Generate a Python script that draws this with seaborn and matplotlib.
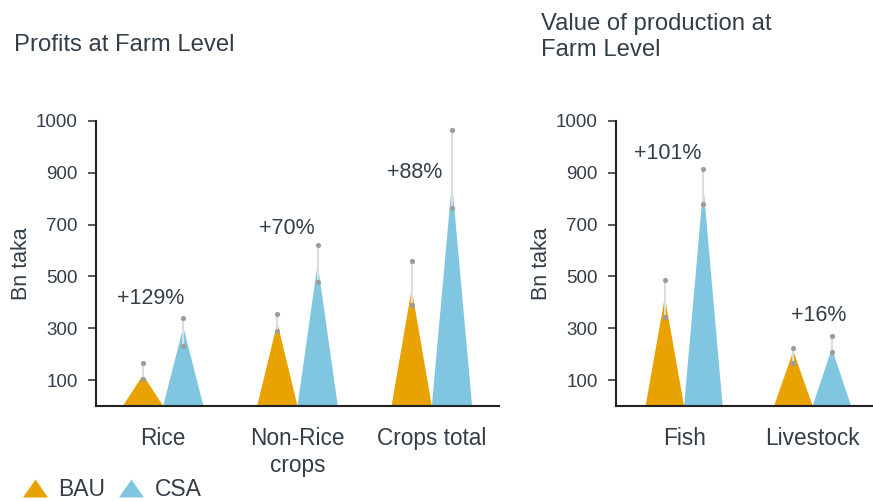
import numpy as np
import pandas as pd
import matplotlib
matplotlib.use("Agg")
import matplotlib.pyplot as plt
from matplotlib.patches import Polygon
from matplotlib.lines import Line2D
import seaborn as sns

# ---- data (Bn taka) ----
scenarios = ["BAU", "CSA"]

profit_cats = ["Rice", "Non-Rice\ncrops", "Crops total"]
profit_bau = [120, 322, 452]
profit_csa = [305, 550, 865]
profit_bau_lo = [105, 290, 391]
profit_bau_hi = [166, 355, 558]
profit_csa_lo = [231, 478, 763]
profit_csa_hi = [341, 623, 1065]
profit_change = ["+129%", "+70%", "+88%"]

value_cats = ["Fish", "Livestock"]
value_bau = [420, 213]
value_csa = [850, 222]
value_bau_lo = [343, 166]
value_bau_hi = [488, 225]
value_csa_lo = [780, 209]
value_csa_hi = [915, 270]
value_change = ["+101%", "+16%"]

ytick_vals = [100, 300, 500, 700, 900, 1100]
ytick_labels = ["100", "300", "500", "700", "900", "1000"]

colors = {"BAU": "#E8A202", "CSA": "#80C6E1"}
text_col = "#333E48"

sns.set_theme(style="white")
plt.rcParams["font.family"] = ["Liberation Sans", "DejaVu Sans"]
plt.rcParams["text.color"] = text_col
plt.rcParams["axes.labelcolor"] = text_col
plt.rcParams["xtick.color"] = text_col
plt.rcParams["ytick.color"] = text_col


def make_df(cats, bau, csa, bau_lo, bau_hi, csa_lo, csa_hi):
    rows = []
    for i, c in enumerate(cats):
        rows.append((c, "BAU", bau[i], bau_lo[i], bau_hi[i]))
        rows.append((c, "CSA", csa[i], csa_lo[i], csa_hi[i]))
    return pd.DataFrame(rows, columns=["cat", "scenario", "value", "lo", "hi"])


def triangle_panel(ax, df, changes, label_pos):
    sns.barplot(data=df, x="cat", y="value", hue="scenario", hue_order=scenarios,
                palette=colors, saturation=1, width=0.6, ax=ax, legend=False,
                errorbar=None)
    # turn every bar into a triangle with the same base and height
    bars = sorted(ax.patches, key=lambda p: p.get_x())
    for p in bars:
        x0, w, h = p.get_x(), p.get_width(), p.get_height()
        tri = Polygon([(x0, 0), (x0 + w, 0), (x0 + w / 2, h)], closed=True,
                      facecolor=p.get_facecolor(), edgecolor="none", zorder=2)
        ax.add_patch(tri)
        p.set_visible(False)
    # error ranges
    xs = [p.get_x() + p.get_width() / 2 for p in bars]
    ax.vlines(xs, df["lo"], df["hi"], color="#dcdcdc", lw=1.5, zorder=3)
    ax.scatter(xs, df["lo"], s=14, color="#9c9c9c", zorder=4, linewidths=0)
    ax.scatter(xs, df["hi"], s=14, color="#9c9c9c", zorder=4, linewidths=0)
    for i, ((dx, ly), t) in enumerate(zip(label_pos, changes)):
        ax.text(i + dx, ly, t, ha="center", va="center", fontsize=15.5, color=text_col)

    ax.set_ylim(0, 1100)
    ax.set_yticks(ytick_vals)
    ax.set_yticklabels(ytick_labels)
    ax.set_xlabel("")
    ax.set_ylabel("Bn taka", fontsize=15.5, labelpad=3)
    ax.tick_params(axis="y", labelsize=13.5, length=6, width=1.2, left=True, pad=7)
    ax.tick_params(axis="x", labelsize=16.3, length=0, pad=15)
    for lbl in ax.get_xticklabels():
        lbl.set_linespacing(1.25)
    sns.despine(ax=ax)
    for s in ["left", "bottom"]:
        ax.spines[s].set_color("#222222")
        ax.spines[s].set_linewidth(1.5)


fig = plt.figure(figsize=(8.73, 5.01), dpi=100)
ax1 = fig.add_axes([96 / 873, 95 / 501, 403 / 873, 285 / 501])
ax2 = fig.add_axes([616 / 873, 95 / 501, 257 / 873, 285 / 501])

df1 = make_df(profit_cats, profit_bau, profit_csa, profit_bau_lo, profit_bau_hi,
              profit_csa_lo, profit_csa_hi)
df2 = make_df(value_cats, value_bau, value_csa, value_bau_lo, value_bau_hi,
              value_csa_lo, value_csa_hi)

triangle_panel(ax1, df1, profit_change, [(-0.09, 415), (-0.08, 685), (-0.13, 900)])
ax1.set_xlim(-0.5, 2.5)

triangle_panel(ax2, df2, value_change, [(-0.13, 973), (0.05, 350)])
ax2.set_xlim(-0.53, 1.47)

fig.text(14 / 873, 1 - 45 / 501, "Profits at Farm Level", fontsize=17.2,
         ha="left", va="center", color=text_col)
fig.text(541 / 873, 1 - 37 / 501, "Value of production at\nFarm Level", fontsize=17.2,
         ha="left", va="center", color=text_col, linespacing=1.2)

tri_marker = [(-1, -0.72), (1, -0.72), (0, 0.72)]
handles = [Line2D([], [], ls="none", marker=tri_marker, markersize=18,
                  markerfacecolor=colors[s], markeredgecolor="none") for s in scenarios]
fig.legend(handles, scenarios, loc="center left", bbox_to_anchor=(10 / 873, 1 - 490 / 501),
           ncol=2, frameon=False, fontsize=16.5, handletextpad=0.3, columnspacing=0.45,
           handlelength=1.4, borderaxespad=0)

fig.savefig("out.png", dpi=100)
